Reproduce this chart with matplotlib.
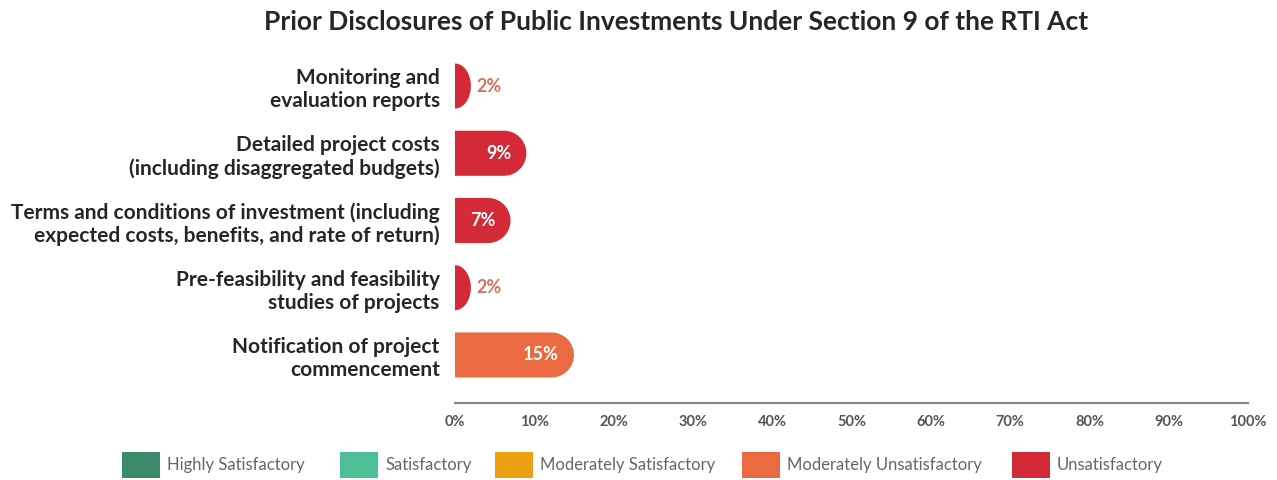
import matplotlib
matplotlib.use("Agg")
import matplotlib.pyplot as plt
from matplotlib.patches import Polygon, Rectangle
import numpy as np

plt.rcParams["font.family"] = ["Lato", "DejaVu Sans"]

categories = [
    "Monitoring and\nevaluation reports",
    "Detailed project costs\n(including disaggregated budgets)",
    "Terms and conditions of investment (including\nexpected costs, benefits, and rate of return)",
    "Pre-feasibility and feasibility\nstudies of projects",
    "Notification of project\ncommencement",
]
values = [2, 9, 7, 2, 15]
ratings = ["Unsatisfactory", "Unsatisfactory", "Unsatisfactory",
           "Unsatisfactory", "Moderately Unsatisfactory"]
xticks = [0, 10, 20, 30, 40, 50, 60, 70, 80, 90, 100]

legend_names = ["Highly Satisfactory", "Satisfactory", "Moderately Satisfactory",
                "Moderately Unsatisfactory", "Unsatisfactory"]
legend_colors = ["#3b8a6c", "#4dbf95", "#eba00f", "#ea6a42", "#d42a37"]
color_of = dict(zip(legend_names, legend_colors))

W, H = 1277, 480
fig = plt.figure(figsize=(W / 100, H / 100), dpi=100)
ax_l, ax_r, ax_t, ax_b = 455, 1248, 45, 403
ax = fig.add_axes([ax_l / W, 1 - ax_b / H, (ax_r - ax_l) / W, (ax_b - ax_t) / H])

px_per_unit = (ax_r - ax_l) / 100.0
ax.set_xlim(0, 100)
ax.set_ylim(4.714, -0.61)
bar_h = 0.67
half_px = 22.5

for i, (v, r) in enumerate(zip(values, ratings)):
    # flat left edge, rounded right end
    rx = min(half_px, v * px_per_unit) / px_per_unit
    t = np.linspace(-np.pi / 2, np.pi / 2, 60)
    arc = np.column_stack([(v - rx) + rx * np.cos(t), i + (bar_h / 2) * np.sin(t)])
    pts = np.vstack([[[0, i - bar_h / 2]], arc, [[0, i + bar_h / 2]]])
    ax.add_patch(Polygon(pts, closed=True, facecolor=color_of[r], edgecolor="none"))
    if v < 5:
        ax.annotate(f"{v}%", (v, i), xytext=(4, 0), textcoords="offset points",
                    ha="left", va="center", fontsize=13, fontweight="bold",
                    color="#d8715a")
    else:
        ax.annotate(f"{v}%", (v, i), xytext=(-11, 0), textcoords="offset points",
                    ha="right", va="center", fontsize=13, fontweight="bold",
                    color="white")

for s in ["top", "right", "left"]:
    ax.spines[s].set_visible(False)
ax.spines["bottom"].set_color("#8a8a8a")
ax.spines["bottom"].set_linewidth(1.6)
ax.set_xticks(xticks)
ax.set_xticklabels([f"{x}%" for x in xticks], fontsize=10.5, fontweight="bold",
                   color="#555555")
ax.tick_params(axis="x", length=0, pad=9)
ax.set_yticks(range(len(categories)))
ax.set_yticklabels(categories, fontsize=15, fontweight="bold", color="#262626",
                   linespacing=1.2)
ax.tick_params(axis="y", length=0, pad=11)

fig.text(676 / W, 1 - 22 / H, "Prior Disclosures of Public Investments Under Section 9 of the RTI Act",
         ha="center", va="center", fontsize=19, fontweight="bold", color="#262626")

# legend row along the bottom
leg_x = [122, 340, 495, 742, 1012]
for x0, name, col in zip(leg_x, legend_names, legend_colors):
    fig.patches.append(Rectangle((x0 / W, 1 - 478 / H), 38 / W, 26 / H,
                                 transform=fig.transFigure, facecolor=col,
                                 edgecolor="none"))
    fig.text((x0 + 45) / W, 1 - 465 / H, name, ha="left", va="center",
             fontsize=12, color="#666666")

fig.savefig("out.png", dpi=100)
